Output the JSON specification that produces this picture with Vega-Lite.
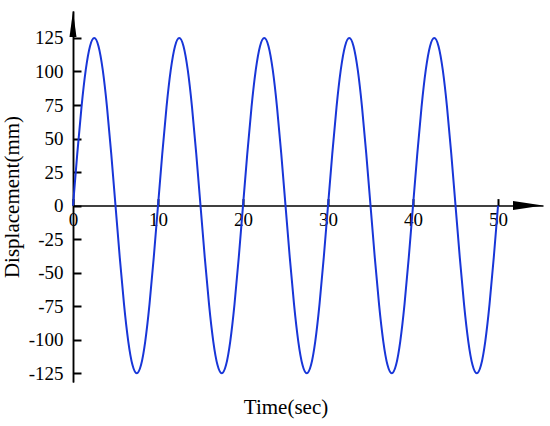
{
  "$schema": "https://vega.github.io/schema/vega-lite/v6.json",
  "width": 470,
  "height": 371,
  "autosize": {"type": "none"},
  "padding": {"left": 73, "top": 11, "right": 7, "bottom": 44},
  "background": "white",
  "config": {
    "view": {"stroke": null},
    "font": "Liberation Serif",
    "axis": {"grid": false, "domainColor": "black", "tickColor": "black", "labelColor": "black", "titleColor": "black", "domainWidth": 1.5, "tickWidth": 1.5, "labelFont": "Liberation Serif", "titleFont": "Liberation Serif", "labelFontSize": 19, "titleFontSize": 21, "titleFontWeight": "normal"}
  },
  "layer": [
    {
      "data": {"values": [
        {"t":0,"d":0},{"t":0.5,"d":38.63},{"t":1,"d":73.47},{"t":1.5,"d":101.13},{"t":2,"d":118.88},{"t":2.5,"d":125},{"t":3,"d":118.88},{"t":3.5,"d":101.13},{"t":4,"d":73.47},{"t":4.5,"d":38.63},
        {"t":5,"d":0},{"t":5.5,"d":-38.63},{"t":6,"d":-73.47},{"t":6.5,"d":-101.13},{"t":7,"d":-118.88},{"t":7.5,"d":-125},{"t":8,"d":-118.88},{"t":8.5,"d":-101.13},{"t":9,"d":-73.47},{"t":9.5,"d":-38.63},
        {"t":10,"d":0},{"t":10.5,"d":38.63},{"t":11,"d":73.47},{"t":11.5,"d":101.13},{"t":12,"d":118.88},{"t":12.5,"d":125},{"t":13,"d":118.88},{"t":13.5,"d":101.13},{"t":14,"d":73.47},{"t":14.5,"d":38.63},
        {"t":15,"d":0},{"t":15.5,"d":-38.63},{"t":16,"d":-73.47},{"t":16.5,"d":-101.13},{"t":17,"d":-118.88},{"t":17.5,"d":-125},{"t":18,"d":-118.88},{"t":18.5,"d":-101.13},{"t":19,"d":-73.47},{"t":19.5,"d":-38.63},
        {"t":20,"d":0},{"t":20.5,"d":38.63},{"t":21,"d":73.47},{"t":21.5,"d":101.13},{"t":22,"d":118.88},{"t":22.5,"d":125},{"t":23,"d":118.88},{"t":23.5,"d":101.13},{"t":24,"d":73.47},{"t":24.5,"d":38.63},
        {"t":25,"d":0},{"t":25.5,"d":-38.63},{"t":26,"d":-73.47},{"t":26.5,"d":-101.13},{"t":27,"d":-118.88},{"t":27.5,"d":-125},{"t":28,"d":-118.88},{"t":28.5,"d":-101.13},{"t":29,"d":-73.47},{"t":29.5,"d":-38.63},
        {"t":30,"d":0},{"t":30.5,"d":38.63},{"t":31,"d":73.47},{"t":31.5,"d":101.13},{"t":32,"d":118.88},{"t":32.5,"d":125},{"t":33,"d":118.88},{"t":33.5,"d":101.13},{"t":34,"d":73.47},{"t":34.5,"d":38.63},
        {"t":35,"d":0},{"t":35.5,"d":-38.63},{"t":36,"d":-73.47},{"t":36.5,"d":-101.13},{"t":37,"d":-118.88},{"t":37.5,"d":-125},{"t":38,"d":-118.88},{"t":38.5,"d":-101.13},{"t":39,"d":-73.47},{"t":39.5,"d":-38.63},
        {"t":40,"d":0},{"t":40.5,"d":38.63},{"t":41,"d":73.47},{"t":41.5,"d":101.13},{"t":42,"d":118.88},{"t":42.5,"d":125},{"t":43,"d":118.88},{"t":43.5,"d":101.13},{"t":44,"d":73.47},{"t":44.5,"d":38.63},
        {"t":45,"d":0},{"t":45.5,"d":-38.63},{"t":46,"d":-73.47},{"t":46.5,"d":-101.13},{"t":47,"d":-118.88},{"t":47.5,"d":-125},{"t":48,"d":-118.88},{"t":48.5,"d":-101.13},{"t":49,"d":-73.47},{"t":49.5,"d":-38.63},
        {"t":50,"d":0}
      ]},
      "mark": {"type": "line", "color": "#1836d8", "strokeWidth": 2, "interpolate": "natural", "clip": false},
      "encoding": {
        "x": {"field": "t", "type": "quantitative",
              "scale": {"domain": [0, 55.29], "nice": false, "zero": false},
              "axis": {"title": null, "orient": "bottom", "values": [0,10,20,30,40,50], "offset": -176.4, "tickSize": -7, "tickWidth": 2, "labelPadding": 12, "labelFlush": false, "labelOverlap": false}},
        "y": {"field": "d", "type": "quantitative",
              "scale": {"domain": [-131.5, 145.1], "nice": false, "zero": false},
              "axis": {"title": "Displacement(mm)", "orient": "left", "values": [-125,-100,-75,-50,-25,0,25,50,75,100,125], "labelExpr": "datum.value < 0 ? '-' + abs(datum.value) : '' + datum.value", "ticks": false, "tickSize": 0, "labelPadding": 10, "titlePadding": 6, "labelFlush": false, "labelOverlap": false}}
      }
    },
    {
      "data": {"values": [
        {"t": 55.29, "d": 0, "dir": "x"},
        {"t": 0, "d": 145.1, "dir": "y"}
      ]},
      "mark": {"type": "point", "filled": true, "opacity": 1, "size": 900, "color": "black", "clip": false},
      "encoding": {
        "x": {"field": "t", "type": "quantitative",
              "axis": {"title": "Time(sec)", "orient": "bottom", "labels": false, "ticks": false, "domain": false, "titleX": 212.5, "titlePadding": 14}},
        "y": {"field": "d", "type": "quantitative",
              "axis": {"title": null, "orient": "right", "offset": -470, "labels": false, "domain": true, "domainColor": "black", "domainWidth": 1.5, "ticks": true, "tickSize": 8, "tickWidth": 2, "tickColor": "black", "values": [-125,-100,-75,-50,-25,0,25,50,75,100,125]}},
        "shape": {"field": "dir", "type": "nominal", "legend": null,
                  "scale": {"domain": ["x", "y"], "range": ["M0,0L-2,-0.3L-2,0.3Z", "M0,0L-0.233,1.733L0.233,1.733Z"]}}
      }
    }
  ],
  "resolve": {"axis": {"x": "independent", "y": "independent"}}
}
